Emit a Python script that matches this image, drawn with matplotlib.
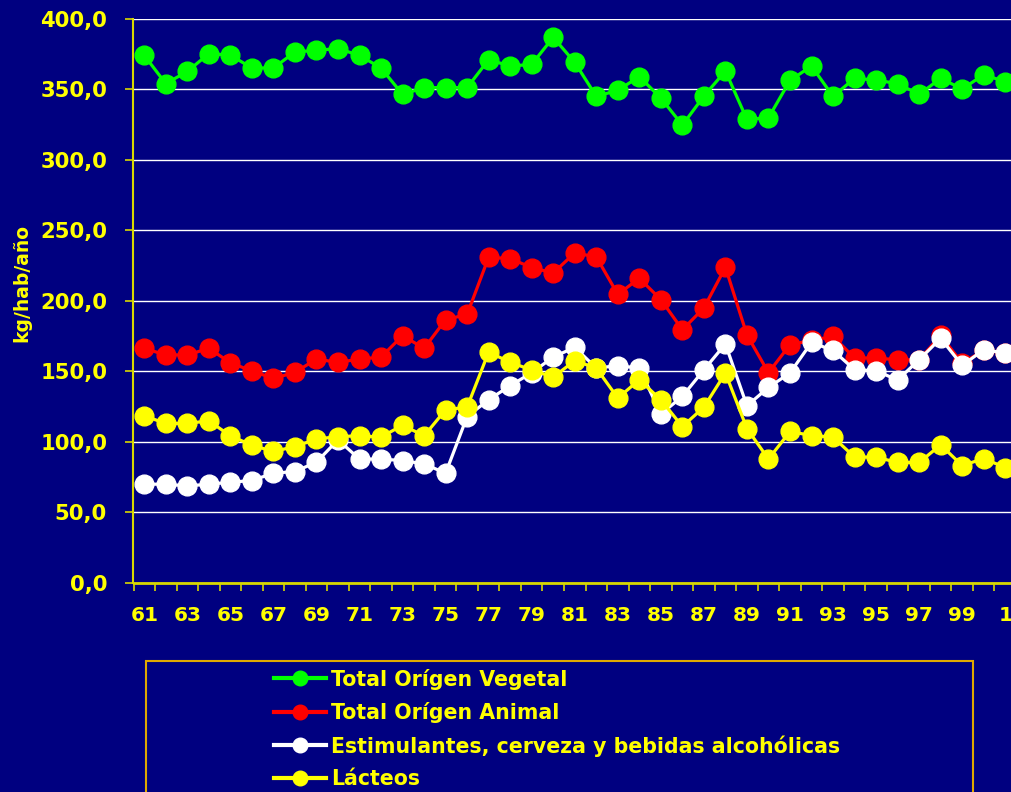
import matplotlib
matplotlib.use("Agg")
import matplotlib.pyplot as plt
from matplotlib.lines import Line2D
from matplotlib.patches import Rectangle
from matplotlib.ticker import FuncFormatter, MultipleLocator

years = list(range(61, 102))

vegetal = [374.2, 354.1, 362.8, 375.4, 374.4, 365.2, 365.2, 376.6, 377.8, 379.0,
           374.2, 365.2, 346.5, 351.3, 351.3, 351.3, 371.1, 366.6, 367.8, 387.0,
           369.2, 345.1, 349.4, 359.1, 343.9, 324.7, 345.3, 363.1, 328.7, 329.9,
           356.4, 366.6, 345.1, 357.9, 356.7, 354.1, 346.5, 357.9, 350.3, 360.5,
           355.5]

animal = [166.3, 161.6, 161.6, 166.3, 156.1, 150.2, 145.0, 149.2, 158.7, 156.3,
          158.7, 160.1, 175.3, 166.3, 186.6, 190.4, 230.9, 230.0, 223.6, 219.8,
          234.0, 231.2, 204.6, 216.0, 200.9, 179.5, 195.0, 223.8, 175.8, 149.0,
          168.9, 171.9, 174.8, 159.4, 159.4, 158.2, 158.0, 175.5, 155.6, 165.0,
          163.0]

estimulantes = [69.9, 69.9, 68.7, 69.9, 71.3, 72.5, 77.7, 78.9, 85.5, 101.4,
                87.7, 87.7, 86.7, 84.3, 77.7, 117.9, 129.8, 139.8, 149.0, 160.1,
                167.0, 152.3, 154.0, 152.3, 119.6, 132.2, 151.1, 169.4, 125.5, 138.6,
                148.8, 170.5, 164.8, 151.1, 150.4, 143.8, 158.2, 173.4, 154.2, 165.3,
                163.0]

lacteos = [118.4, 113.0, 113.0, 114.9, 104.2, 97.6, 93.1, 96.6, 101.9, 103.7,
           104.2, 103.3, 111.8, 104.2, 122.7, 124.6, 163.7, 156.3, 151.0, 145.9,
           157.5, 152.3, 131.0, 144.0, 129.8, 110.8, 124.6, 148.8, 109.4, 87.7,
           107.3, 104.4, 103.3, 89.1, 89.1, 85.3, 85.3, 97.8, 83.1, 88.1,
           81.7]

series_names = ["Total Orígen Vegetal", "Total Orígen Animal",
                "Estimulantes, cerveza y bebidas alcohólicas", "Lácteos"]
series_colors = ["#00FF00", "#FF0000", "#FFFFFF", "#FFFF00"]

y_label = "kg/hab/año"

BG = "#000080"
YEL = "#FFFF00"
AXC = "#D8D800"

W, H = 1012, 792
fig = plt.figure(figsize=(W / 100, H / 100), dpi=100, facecolor=BG)
ax = fig.add_axes([133.5 / W, 1 - 582.7 / H, (1016 - 133.5) / W, (582.7 - 19) / H])
ax.set_facecolor(BG)

for vals, name, col in zip([vegetal, animal, estimulantes, lacteos], series_names, series_colors):
    ax.plot(years, vals, color=col, lw=2.3, marker="o", markersize=13.5,
            markerfacecolor=col, markeredgecolor=col, label=name, clip_on=False, zorder=3)

ax.set_ylim(0, 400)
ax.set_xlim(60.5, 101.5)
ax.yaxis.set_major_locator(MultipleLocator(50))
ax.yaxis.set_major_formatter(FuncFormatter(lambda v, p: f"{v:.1f}".replace(".", ",")))
ax.grid(axis="y", color="#FFFFFF", lw=1.0, zorder=1)
ax.set_axisbelow(True)

ax.set_xticks(years[::2])
ax.set_xticklabels([str(y % 100) for y in years[::2]])
ax.set_xticks([y + 0.5 for y in [60] + years], minor=True)
ax.tick_params(axis="x", which="major", length=0, pad=17, labelsize=14.5, labelcolor=YEL)
ax.tick_params(axis="x", which="minor", length=6, width=1.2, color=AXC, direction="out")
ax.tick_params(axis="y", which="major", length=6, width=1.2, color=AXC, pad=13,
               labelsize=15.2, labelcolor=YEL)
for lab in ax.get_xticklabels() + ax.get_yticklabels():
    lab.set_fontweight("bold")

for s in ["top", "right"]:
    ax.spines[s].set_visible(False)
ax.spines["left"].set_color(AXC)
ax.spines["bottom"].set_color(AXC)
ax.spines["left"].set_linewidth(1.5)
ax.spines["bottom"].set_linewidth(2)

fig.text(22 / W, 1 - 283 / H, y_label, rotation=90, color=YEL, fontsize=13.5,
         fontweight="bold", ha="center", va="center")

# legend box
fig.patches.append(Rectangle((146 / W, -0.05), (973 - 146) / W, 0.05 + 1 - 660.7 / H,
                             transform=fig.transFigure, facecolor=BG,
                             edgecolor="#E0A800", lw=1.5, zorder=0))
handles = [Line2D([], [], color=c, lw=3, marker="o", markersize=10.5) for c in series_colors]
leg = fig.legend(handles, series_names, loc="upper left",
                 bbox_to_anchor=(256 / W, 1 - 650 / H), frameon=False,
                 handlelength=2.5, handletextpad=0.25, labelspacing=0.6,
                 prop={"weight": "bold", "size": 14.8})
for t in leg.get_texts():
    t.set_color(YEL)

fig.savefig("out.png", dpi=100, facecolor=BG)
